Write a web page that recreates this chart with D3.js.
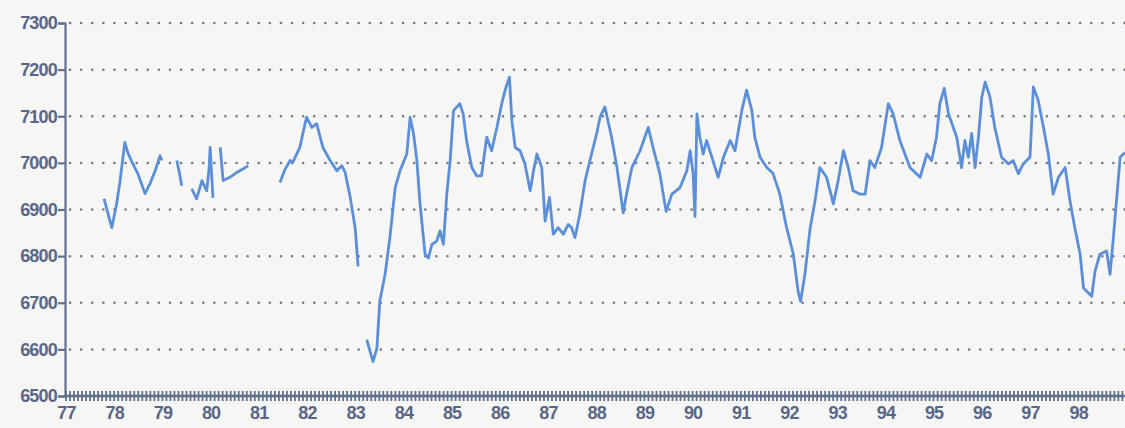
<!DOCTYPE html>
<html>
<head>
<meta charset="utf-8">
<script src="https://cdn.jsdelivr.net/npm/d3@7"></script>
<style>
  html, body { margin: 0; padding: 0; background: #f6f6f4; }
  svg { display: block; }
</style>
</head>
<body>
<svg id="chart" width="1125" height="428"></svg>
<script>
// Series: decimal year and level; null marks a break in the record.
const years = [
  1977.79, 1977.95, 1978.05, 1978.12, 1978.22, 1978.29, 1978.36, 1978.49, 1978.64, 1978.74, 1978.85, 1978.95, 1978.99,
  1979.10,
  1979.30, 1979.37, 1979.40,
  1979.50,
  1979.61, 1979.71, 1979.82, 1979.92, 1979.97, 1979.99, 1980.03, 1980.05,
  1980.12,
  1980.20, 1980.26, 1980.40, 1980.55, 1980.67, 1980.78,
  1981.10,
  1981.44, 1981.54, 1981.65, 1981.71, 1981.85, 1981.99, 1982.10, 1982.20, 1982.33, 1982.48, 1982.62, 1982.72, 1982.79, 1982.89, 1983.00, 1983.06,
  1983.15,
  1983.24, 1983.31, 1983.37, 1983.45, 1983.51, 1983.62, 1983.72, 1983.83, 1983.93, 1984.07, 1984.14, 1984.21, 1984.28, 1984.34, 1984.45, 1984.52,
  1984.59, 1984.69, 1984.76, 1984.83, 1984.90, 1984.97, 1985.04, 1985.17, 1985.24, 1985.31, 1985.42, 1985.52, 1985.62, 1985.69, 1985.73, 1985.83,
  1985.94, 1986.04, 1986.11, 1986.20, 1986.25, 1986.32, 1986.42, 1986.52, 1986.63, 1986.70, 1986.77, 1986.87, 1986.94, 1987.03, 1987.11, 1987.21,
  1987.32, 1987.42, 1987.49, 1987.56, 1987.66, 1987.77, 1987.87, 1988.01, 1988.08, 1988.18, 1988.32, 1988.43, 1988.56, 1988.63, 1988.74, 1988.91,
  1989.08, 1989.18, 1989.32, 1989.45, 1989.57, 1989.74, 1989.88, 1989.95, 1990.01, 1990.05, 1990.09, 1990.15, 1990.22, 1990.29, 1990.40, 1990.53,
  1990.64, 1990.78, 1990.88, 1991.02, 1991.12, 1991.23, 1991.29, 1991.40, 1991.54, 1991.67, 1991.81, 1991.95, 1992.09, 1992.19, 1992.24, 1992.33,
  1992.44, 1992.54, 1992.64, 1992.78, 1992.92, 1993.02, 1993.13, 1993.23, 1993.33, 1993.47, 1993.58, 1993.68, 1993.78, 1993.92, 1994.06, 1994.16,
  1994.30, 1994.51, 1994.72, 1994.86, 1994.96, 1995.06, 1995.13, 1995.22, 1995.31, 1995.48, 1995.58, 1995.65, 1995.72, 1995.79, 1995.86, 1995.93,
  1996.00, 1996.07, 1996.17, 1996.27, 1996.41, 1996.55, 1996.65, 1996.76, 1996.86, 1997.00, 1997.07, 1997.17, 1997.28, 1997.38, 1997.48, 1997.59,
  1997.73, 1997.83, 1997.93, 1998.04, 1998.11, 1998.18, 1998.28, 1998.35, 1998.45, 1998.59, 1998.66, 1998.73, 1998.80, 1998.87, 1998.97
];
const values = [
  6923, 6861, 6912, 6960, 7044, 7020, 7004, 6977, 6934, 6955, 6983, 7015, 7005,
  null,
  7005, 6969, 6951,
  null,
  6944, 6923, 6962, 6940, 6990, 7033, 6960, 6925,
  null,
  7033, 6962, 6969, 6980, 6987, 6994,
  null,
  6958, 6985, 7005, 7002, 7033, 7098, 7076, 7084, 7033, 7005, 6983, 6994, 6980, 6930, 6860, 6778,
  null,
  6621, 6595, 6574, 6602, 6703, 6761, 6840, 6947, 6983, 7019, 7098, 7063, 7005, 6918, 6804, 6796,
  6825, 6832, 6854, 6825, 6933, 7005, 7112, 7127, 7105, 7048, 6990, 6972, 6972, 7026, 7055, 7026,
  7076, 7127, 7156, 7184, 7091, 7033, 7026, 6998, 6940, 6983, 7019, 6990, 6875, 6926, 6847, 6861,
  6847, 6868, 6861, 6840, 6890, 6962, 7005, 7063, 7098, 7120, 7055, 6990, 6893, 6933, 6990, 7026,
  7076, 7033, 6977, 6896, 6933, 6947, 6983, 7026, 6977, 6885, 7105, 7055, 7019, 7048, 7012, 6969,
  7012, 7048, 7026, 7112, 7156, 7112, 7055, 7012, 6990, 6977, 6933, 6861, 6804, 6724, 6703, 6761,
  6861, 6918, 6990, 6969, 6912, 6962, 7026, 6990, 6940, 6933, 6933, 7005, 6990, 7033, 7127, 7105,
  7048, 6990, 6969, 7019, 7005, 7055, 7127, 7160, 7105, 7055, 6990, 7048, 7012, 7063, 6990, 7055,
  7141, 7173, 7141, 7076, 7012, 6998, 7005, 6977, 6998, 7012, 7163, 7134, 7076, 7019, 6933, 6969,
  6990, 6918, 6861, 6804, 6732, 6724, 6714, 6768, 6804, 6811, 6761, 6840, 6926, 7012, 7022
];

const yTicks = [6500, 6600, 6700, 6800, 6900, 7000, 7100, 7200, 7300];
const labelYears = [1977, 1978, 1979, 1980, 1981, 1982, 1983, 1984, 1985, 1986, 1987,
                    1988, 1989, 1990, 1991, 1992, 1993, 1994, 1995, 1996, 1997, 1998];
const yearLabels = ["77", "78", "79", "80", "81", "82", "83", "84", "85", "86", "87",
                    "88", "89", "90", "91", "92", "93", "94", "95", "96", "97", "98"];

const W = 1125, H = 428;
const axisColor = "#62708f";
const textColor = "#5a6688";
const lineColor = "#5b8fd8";

const svg = d3.select("#chart");
const x = d3.scaleLinear().domain([1977, 1999]).range([66, 1126.4]);
const y = d3.scaleLinear().domain([6500, 7300]).range([396, 23]);

// Dotted horizontal grid
svg.append("g").selectAll("line")
  .data(yTicks.filter(d => d > 6500))
  .join("line")
  .attr("x1", 70).attr("x2", W)
  .attr("y1", d => y(d)).attr("y2", d => y(d))
  .attr("stroke", "#4f5976")
  .attr("stroke-width", 2.5)
  .attr("stroke-linecap", "round")
  .attr("stroke-dasharray", "0.1 11")
  .attr("opacity", 0.8);

// Left axis
const yAxis = svg.append("g")
  .attr("transform", "translate(65,0)")
  .call(d3.axisLeft(y).tickValues(yTicks).tickSize(7).tickPadding(1).tickFormat(d3.format("d")));
yAxis.select(".domain").attr("stroke", axisColor).attr("stroke-width", 2.2);
yAxis.selectAll(".tick line").attr("stroke", axisColor).attr("stroke-width", 2.2);
yAxis.selectAll(".tick text")
  .attr("fill", textColor)
  .style("font-family", "'Liberation Sans', Arial, sans-serif")
  .style("font-weight", "bold")
  .style("font-size", "18px")
  .style("letter-spacing", "-0.8px");

// Bottom axis: base line with dense monthly ticks
const monthTicks = d3.range(0, 22 * 12 + 1).map(i => 1977 + i / 12);
svg.append("line")
  .attr("x1", 65).attr("x2", W)
  .attr("y1", y(6500)).attr("y2", y(6500))
  .attr("stroke", axisColor).attr("stroke-width", 2.6);
svg.append("g").selectAll("line")
  .data(monthTicks)
  .join("line")
  .attr("x1", d => x(d)).attr("x2", d => x(d))
  .attr("y1", y(6500) - 5).attr("y2", y(6500) + 5)
  .attr("stroke", axisColor)
  .attr("stroke-width", 1.8);

const xAxis = svg.append("g")
  .attr("transform", `translate(0,${y(6500)})`)
  .call(d3.axisBottom(x).tickValues(labelYears).tickSize(0).tickPadding(10)
    .tickFormat((d, i) => yearLabels[i]));
xAxis.select(".domain").remove();
xAxis.selectAll(".tick text")
  .attr("fill", textColor)
  .style("font-family", "'Liberation Sans', Arial, sans-serif")
  .style("font-weight", "bold")
  .style("font-size", "18px")
  .style("letter-spacing", "-0.8px");

// Series line
const data = years.map((t, i) => ({ t, v: values[i] }));
const line = d3.line()
  .defined(d => d.v !== null)
  .x(d => x(d.t))
  .y(d => y(d.v));
svg.append("path")
  .datum(data)
  .attr("fill", "none")
  .attr("stroke", lineColor)
  .attr("stroke-width", 2.8)
  .attr("stroke-linejoin", "round")
  .attr("d", line);
</script>
</body>
</html>
